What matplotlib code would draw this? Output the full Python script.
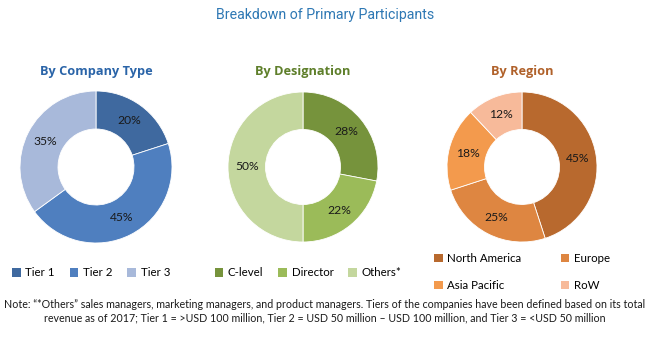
import matplotlib
matplotlib.use("Agg")
import numpy as np
import matplotlib.pyplot as plt
from matplotlib.patches import Patch

# Data
company_labels = ["Tier 1", "Tier 2", "Tier 3"]
company_values = [20, 45, 35]
company_colors = ["#3F699F", "#4F7FBF", "#A8B9DA"]

designation_labels = ["C-level", "Director", "Others*"]
designation_values = [28, 22, 50]
designation_colors = ["#76933C", "#9BBB59", "#C4D79E"]

region_labels = ["North America", "Europe", "Asia Pacific", "RoW"]
region_values = [45, 25, 18, 12]
region_colors = ["#B8692E", "#DE8641", "#F39A4D", "#F7BA9A"]

W, H = 650, 350
fig = plt.figure(figsize=(6.5, 3.5), dpi=100)
small_font = "Lato"


def px_axes(cx, cy, r):
    # axes square around a donut center given in pixel coords (top-left origin)
    return fig.add_axes([(cx - r) / W, (H - cy - r) / H, 2 * r / W, 2 * r / H])


def donut(cx, cy, r, values, colors, title, title_color):
    ax = px_axes(cx, cy, r)
    wedges, _ = ax.pie(values, colors=colors, startangle=90, counterclock=False,
                       radius=1.0, wedgeprops=dict(width=0.5, edgecolor="white", linewidth=0.6))
    for w, v in zip(wedges, values):
        ang = np.deg2rad((w.theta1 + w.theta2) / 2)
        ax.text(0.75 * np.cos(ang), 0.75 * np.sin(ang), f"{v}%", ha="center", va="center",
                fontsize=8.7, family=small_font, color="#1a1a1a")
    ax.set_xlim(-1, 1)
    ax.set_ylim(-1, 1)
    fig.text(cx / W, 1 - 72 / H, title, ha="center", va="center", fontsize=9.2,
             fontweight="bold", color=title_color, family="Open Sans")
    return ax


donut(96, 167, 76, company_values, company_colors, "By Company Type", "#2A64A8")
donut(303, 167, 75, designation_values, designation_colors, "By Designation", "#5E7F2A")
donut(522, 167, 75, region_values, region_colors, "By Region", "#B0612A")

fig.text(0.5, 1 - 15 / H, "Breakdown of Primary Participants", ha="center", va="center",
         fontsize=10.2, color="#2E78B4", family="Roboto")


def legend(labels, colors, cx, cy, ncol, colsp, rowsp=0.9):
    handles = [Patch(facecolor=c, edgecolor="none") for c in colors]
    fig.legend(handles, labels, loc="center", bbox_to_anchor=(cx / W, 1 - cy / H), ncol=ncol,
               frameon=False, handlelength=0.75, handleheight=0.75, handletextpad=0.4,
               columnspacing=colsp, labelspacing=rowsp, prop=dict(family=small_font, size=8.3))


legend(company_labels, company_colors, 91, 273, 3, 1.3)
legend(designation_labels, designation_colors, 308, 273, 3, 1.3)
# legend fills column-wise: reorder so rows read NA, Europe / Asia Pacific, RoW
order = [0, 2, 1, 3]
legend([region_labels[i] for i in order], [region_colors[i] for i in order], 522, 272, 2, 3.4, 1.35)

note = ("Note: \u201c*Others\u201d sales managers, marketing managers, and product managers. Tiers of the companies have been defined based on its total\n"
        "revenue as of 2017; Tier 1 = >USD 100 million, Tier 2 = USD 50 million \u2013 USD 100 million, and Tier 3 = <USD 50 million")
fig.text(0.5, 1 - 311 / H, note, ha="center", va="center", fontsize=7.7, family=small_font,
         color="#1a1a1a", linespacing=1.3)

fig.savefig("out.png", dpi=100)
